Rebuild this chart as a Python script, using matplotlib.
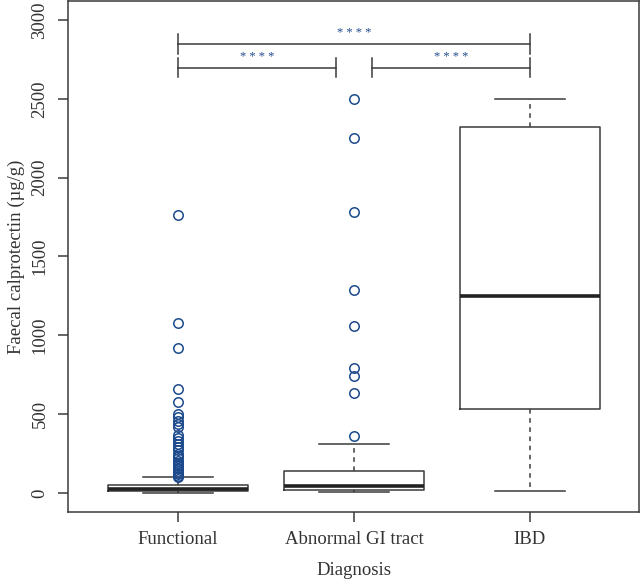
import numpy as np
import matplotlib
matplotlib.use("Agg")
import matplotlib.pyplot as plt

# Données (µg/g)
groupes = ["Functional", "Abnormal GI tract", "IBD"]
# statistiques des boîtes : whisker bas, Q1, médiane, Q3, whisker haut
whisker_bas = [2, 6, 15]
q1 = [15, 20, 533]
mediane = [25, 45, 1250]
q3 = [50, 140, 2322]
whisker_haut = [99, 313, 2500]

outliers_functional = [1760, 1080, 920, 660, 580, 500, 480, 460, 440, 420,
                       370, 350, 330, 310, 290, 270, 250, 235, 220, 205,
                       190, 180, 170, 160, 150, 140, 130, 120, 110, 102]
outliers_abnormal = [2500, 2250, 1780, 1290, 1060, 790, 740, 635, 365]
outliers_ibd = []

# comparaisons (groupe1, groupe2, hauteur, étiquette)
comparaisons = [(1, 3, 2850, "* * * *"), (1, 1.9, 2698, "* * * *"), (2.1, 3, 2698, "* * * *")]

plt.rcParams['font.family'] = ['Liberation Serif', 'DejaVu Serif']
gris = "#3a3a3a"
bleu = "#1d4a8c"

fig = plt.figure(figsize=(6.4, 5.79), dpi=100)
ax = fig.add_axes([68 / 640, 1 - 512 / 579, (639 - 68) / 640, (512 - 1) / 579])

stats = []
for i, nom in enumerate(groupes):
    fl = [outliers_functional, outliers_abnormal, outliers_ibd][i]
    stats.append({"label": nom, "whislo": whisker_bas[i], "q1": q1[i], "med": mediane[i],
                  "q3": q3[i], "whishi": whisker_haut[i], "fliers": fl})

ax.bxp(stats, positions=[1, 2, 3], widths=0.8,
       boxprops=dict(color=gris, linewidth=1.1),
       medianprops=dict(color="#222222", linewidth=2.6, solid_capstyle="butt"),
       whiskerprops=dict(color=gris, linewidth=1.1, linestyle=(0, (3, 3))),
       capprops=dict(color=gris, linewidth=1.1),
       capwidths=0.4,
       flierprops=dict(marker="o", markerfacecolor="none", markeredgecolor=bleu,
                       markersize=6.8, markeredgewidth=1.1))

# crochets de significativité
for g1, g2, h, txt in comparaisons:
    ax.plot([g1, g2], [h, h], color=gris, lw=1.1)
    ax.plot([g1, g1], [h - 63, h + 63], color=gris, lw=1.1)
    ax.plot([g2, g2], [h - 63, h + 63], color=gris, lw=1.1)
    ax.text((g1 + g2) / 2, h + 30, txt, color=bleu, ha="center", va="bottom", fontsize=9)

ax.set_xlim(0.375, 3.62)
ax.set_ylim(-120, 3120)
ax.set_yticks([0, 500, 1000, 1500, 2000, 2500, 3000])
ax.set_xticks([1, 2, 3])
ax.set_xticklabels(groupes)
for lab in ax.get_yticklabels():
    lab.set_rotation(90)
    lab.set_va("center")
ax.tick_params(colors=gris, labelcolor="#333333", labelsize=13.5, length=7, width=1.1, pad=7)
for s in ax.spines.values():
    s.set_color(gris)
    s.set_linewidth(1.1)

ax.set_xlabel("Diagnosis", fontsize=13.5, color="#333333", labelpad=10)
ax.set_ylabel("Faecal calprotectin (µg/g)", fontsize=13.5, color="#333333", labelpad=5)

fig.savefig("out.png", dpi=100)
